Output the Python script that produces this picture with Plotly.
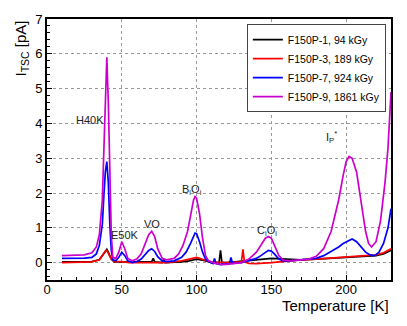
import plotly.graph_objects as go

# F150P-1, 94 kGy
t1 = [10, 20, 30, 35, 37, 39, 40, 41, 43, 45, 50, 55, 60, 70, 71, 72, 77, 78, 79, 80, 90, 95, 100, 105,
      110, 115, 116, 117, 118, 120, 130, 140, 150, 160, 170, 180, 190, 200, 210, 220, 225, 230]
i1 = [0.02, 0.02, 0.03, 0.08, 0.2, 0.35, 0.38, 0.3, 0.1, 0.02, 0.03, 0.02, 0.02, 0.02, 0.12, 0.02, 0.0, 0.1, 0.0,
      0.0, 0.02, 0.05, 0.1, 0.06, 0.0, -0.02, 0.35, -0.02, 0.0, 0.0, 0.05, 0.08, 0.12, 0.1, 0.08, 0.1, 0.13, 0.16,
      0.18, 0.2, 0.25, 0.35]
# F150P-3, 189 kGy
t3 = [10, 20, 30, 35, 37, 39, 40, 41, 43, 45, 50, 55, 60, 70, 80, 90, 95, 100, 105, 110, 120, 125, 130, 131,
      132, 135, 140, 150, 160, 170, 180, 190, 200, 210, 220, 225, 230]
i3 = [0.0, 0.0, 0.02, 0.08, 0.2, 0.33, 0.35, 0.28, 0.1, 0.03, 0.03, 0.0, 0.0, 0.0, 0.0, 0.05, 0.1, 0.15, 0.08,
      0.02, 0.0, 0.0, 0.02, 0.38, 0.02, -0.02, -0.03, 0.0, 0.05, 0.08, 0.1, 0.13, 0.15, 0.18, 0.22, 0.28, 0.4]
# F150P-7, 924 kGy
t7 = [10, 15, 20, 25, 30, 33, 35, 37, 38, 39, 40, 41, 42, 43, 44, 46, 48, 50, 52, 54, 57, 60, 63, 66, 68, 70,
      72, 74, 77, 80, 85, 90, 93, 96, 98, 99, 100, 102, 104, 106, 108, 111, 112, 113, 116, 120, 122, 123, 124,
      130, 135, 140, 143, 146, 148, 150, 152, 155, 158, 162, 170, 180, 185, 190, 195, 198, 201, 204, 207, 210,
      213, 216, 219, 222, 225, 228, 230]
i7 = [0.12, 0.12, 0.12, 0.13, 0.15, 0.25, 0.5, 1.1, 1.9, 2.6, 2.9, 2.3, 1.1, 0.35, 0.08, 0.05, 0.15, 0.3, 0.2,
      0.05, 0.0, 0.03, 0.1, 0.25, 0.35, 0.4, 0.32, 0.17, 0.05, 0.03, 0.05, 0.15, 0.3, 0.55, 0.75, 0.85, 0.83, 0.6,
      0.3, 0.1, 0.03, -0.03, 0.12, -0.03, -0.06, -0.05, -0.03, 0.15, -0.02, 0.0, 0.05, 0.12, 0.2, 0.3, 0.35, 0.33,
      0.25, 0.1, 0.05, 0.05, 0.08, 0.12, 0.2, 0.32, 0.45, 0.55, 0.62, 0.68, 0.6, 0.45, 0.3, 0.22, 0.2, 0.3, 0.55,
      1.0, 1.55]
# F150P-9, 1861 kGy
t9 = [10, 15, 20, 25, 30, 33, 35, 37, 38, 39, 40, 41, 42, 43, 44, 46, 48, 50, 52, 54, 57, 60, 63, 66, 68, 70,
      72, 74, 77, 80, 85, 88, 91, 94, 96, 98, 99, 100, 102, 104, 106, 108, 112, 116, 120, 125, 130, 135, 140, 143,
      146, 148, 150, 152, 155, 158, 162, 170, 175, 180, 185, 190, 195, 198, 200, 202, 204, 207, 210, 213, 215,
      217, 220, 223, 226, 228, 230]
i9 = [0.2, 0.2, 0.22, 0.22, 0.28, 0.45, 0.8, 1.8, 3.2, 5.0, 5.9, 4.6, 2.2, 0.8, 0.15, 0.12, 0.3, 0.6, 0.4, 0.12,
      0.05, 0.1, 0.25, 0.55, 0.8, 0.9, 0.75, 0.4, 0.12, 0.08, 0.12, 0.25, 0.5, 0.9, 1.4, 1.8, 1.9, 1.85, 1.4, 0.7,
      0.2, 0.05, -0.02, -0.05, -0.05, -0.02, 0.0, 0.1, 0.3, 0.5, 0.7, 0.75, 0.7, 0.5, 0.2, 0.07, 0.05, 0.08, 0.1,
      0.18, 0.4, 0.9, 1.8, 2.5, 2.9, 3.05, 3.0, 2.6, 1.8, 0.9, 0.55, 0.45, 0.6, 1.2, 2.3, 3.3, 4.9]

series = [
    ('F150P-1, 94 kGy', t1, i1, '#000000'),
    ('F150P-3, 189 kGy', t3, i3, '#ff0000'),
    ('F150P-7, 924 kGy', t7, i7, '#0000ff'),
    ('F150P-9, 1861 kGy', t9, i9, '#cc00cc'),
]

# подписи пиков
peak_names = ['H40K', 'E50K', 'VO', 'B<sub>i</sub>O<sub>i</sub>', 'C<sub>i</sub>O<sub>i</sub>',
              'I<sub>P</sub><sup>*</sup>']
peak_t = [29, 52, 70, 97, 147, 190.5]
peak_i = [4.1, 0.8, 1.12, 2.1, 0.9, 3.6]

fig = go.Figure()
for name, x, y, color in series:
    fig.add_trace(go.Scatter(x=x, y=y, mode='lines', name=name, line=dict(color=color, width=1.7)))

for txt, x, y in zip(peak_names, peak_t, peak_i):
    fig.add_annotation(x=x, y=y, text=txt, showarrow=False, font=dict(size=11, color='#222222'))

# подписи осей
fig.add_annotation(x=1, y=0, xref='paper', yref='paper', xanchor='right', yanchor='top', yshift=-15,
                   text='Temperature [K]', showarrow=False, font=dict(size=15, color='black'))
fig.add_annotation(x=0, y=1, xref='paper', yref='paper', xanchor='right', yanchor='top', xshift=-15,
                   textangle=-90, text='I<sub>TSC</sub> [pA]', showarrow=False,
                   font=dict(size=15, color='black'))

axis_common = dict(showline=True, linecolor='black', linewidth=2, mirror=True, ticks='inside',
                   ticklen=5, tickcolor='black', showgrid=True, gridcolor='#999999', griddash='dot',
                   gridwidth=1, zeroline=False, automargin=False,
                   tickfont=dict(size=13, color='black'))

fig.update_xaxes(range=[0, 230], dtick=50, tick0=0, ticklabelstandoff=-4,
                 minor=dict(dtick=10, ticks='inside', ticklen=3, tickcolor='black', showgrid=False),
                 **axis_common)
fig.update_yaxes(range=[-0.5, 7], dtick=1, tick0=0,
                 minor=dict(dtick=0.2, ticks='inside', ticklen=3, tickcolor='black', showgrid=False),
                 **axis_common)

# поля с учётом отступа страницы (8 px)
fig.update_layout(
    width=407, height=326,
    margin=dict(l=39, r=24, t=11, b=54),
    paper_bgcolor='white', plot_bgcolor='white',
    font=dict(family='Liberation Sans, Arial, sans-serif', color='black'),
    legend=dict(x=0.985, y=0.98, xanchor='right', yanchor='top', bgcolor='white',
                bordercolor='#444444', borderwidth=1, font=dict(size=10.5), tracegroupgap=0,
                itemwidth=30),
    showlegend=True,
)

fig.write_html("out.html")
